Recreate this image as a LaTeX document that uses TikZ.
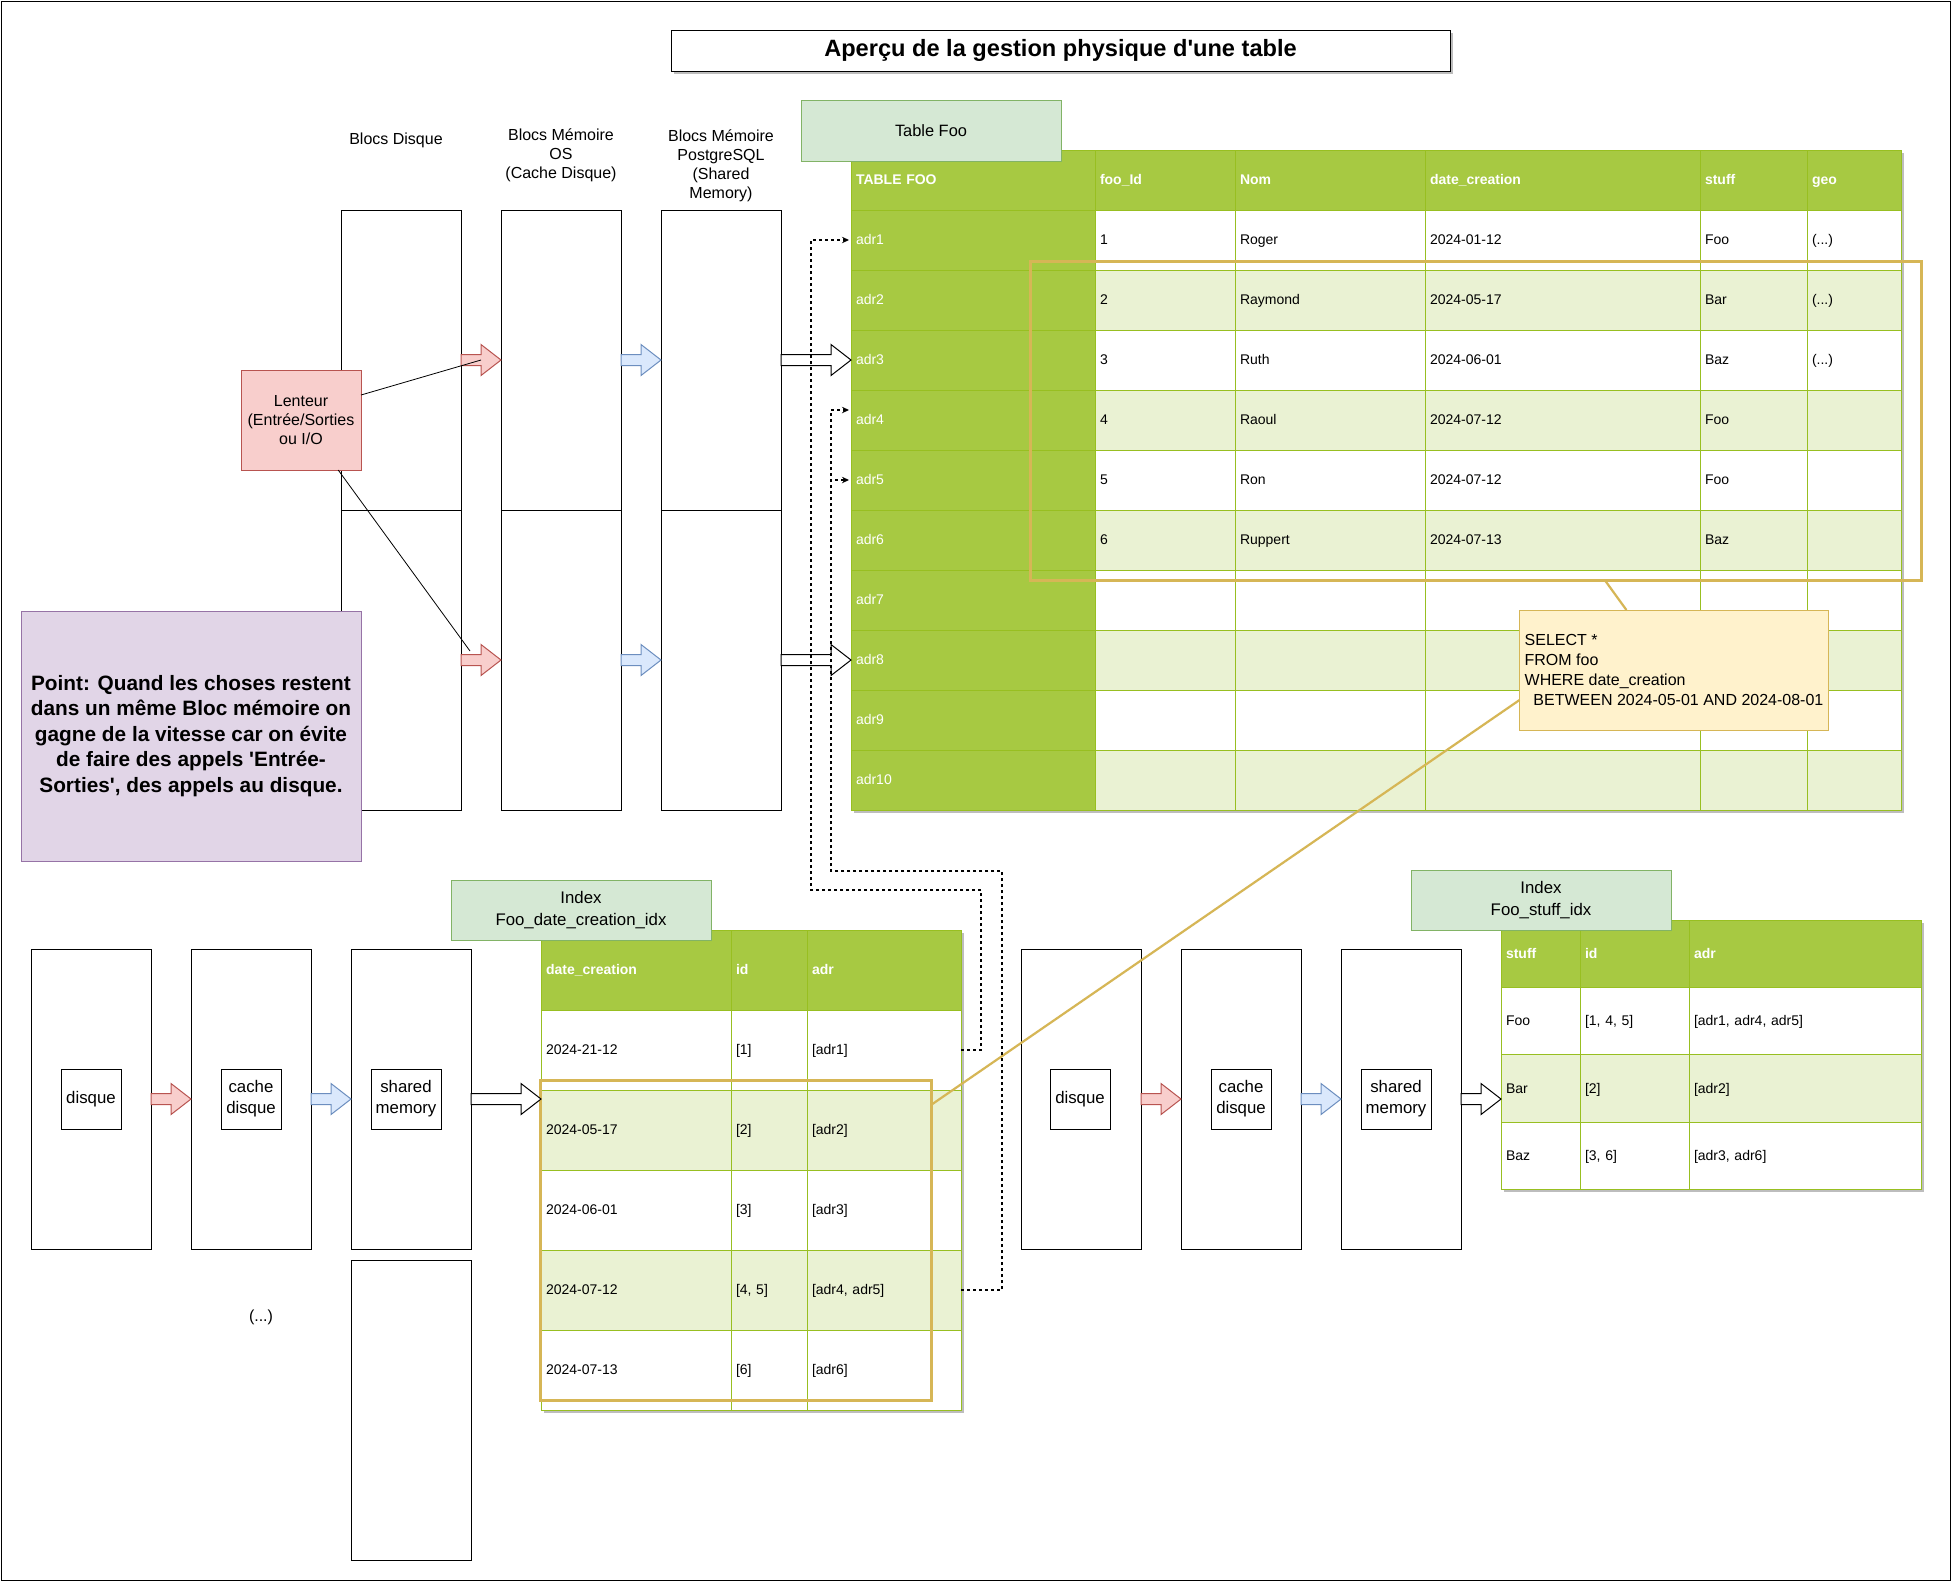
\documentclass[tikz,border=0pt]{standalone}
\usepackage{fontspec}
\setmainfont{Liberation Sans}[Ligatures=TeXOff]
\usetikzlibrary{calc,arrows.meta}

\definecolor{tgreen}{HTML}{A7C942}
\definecolor{tgrid}{HTML}{98BF21}
\definecolor{tlight}{HTML}{EAF2D3}
\definecolor{hlor}{HTML}{D6B656}
\definecolor{sqlfill}{HTML}{FFF2CC}
\definecolor{lblfill}{HTML}{D5E8D4}
\definecolor{lbldraw}{HTML}{82B366}
\definecolor{purfill}{HTML}{E1D5E7}
\definecolor{purdraw}{HTML}{9673A6}
\definecolor{redfill}{HTML}{F8CECC}
\definecolor{reddraw}{HTML}{B85450}
\definecolor{bluefill}{HTML}{DAE8FC}
\definecolor{bluedraw}{HTML}{6C8EBF}
\definecolor{shadowc}{HTML}{BDBDBD}

\tikzset{
  every node/.style={inner sep=0pt,outer sep=0pt},
  plainbox/.style={draw=black,line width=0.5pt,fill=white},
  lbl/.style={font=\fontsize{8}{9.5}\selectfont,align=center},
  lblb/.style={font=\fontsize{8.4}{10.6}\selectfont,align=center},
  colhalf/.style={plainbox,anchor=north west,minimum width=60pt,minimum height=150pt},
  bigbox/.style={plainbox,minimum width=60pt,minimum height=150pt},
  innerbox/.style={plainbox,lblb,minimum width=30pt,minimum height=30pt},
  greenlbl/.style={draw=lbldraw,fill=lblfill,line width=0.5pt,minimum width=130pt,minimum height=30pt,lblb},
  tcellbase/.style={draw=tgrid,line width=0.5pt,anchor=north west,inner xsep=2.5pt,inner ysep=0pt,
    align=left,font=\fontsize{7}{8.4}\selectfont,text=black,text height=5.7pt,text depth=0.9pt},
  hdr/.style={fill=tgreen,text=white,font=\fontsize{7}{8.4}\selectfont\bfseries},
  keycol/.style={fill=tgreen,text=white},
  hl/.style={draw=hlor,line width=1.5pt,anchor=north west},
  redarrow/.style={fill=redfill,draw=reddraw,line width=0.5pt},
  bluearrow/.style={fill=bluefill,draw=bluedraw,line width=0.5pt},
  whitearrow/.style={fill=white,draw=black,line width=0.5pt},
  dashconn/.style={draw=black,line width=0.65pt,dash pattern=on 1.5pt off 1.5pt,
    -{Stealth[length=3.5pt,width=3.2pt]}},
  callout/.style={draw=hlor,line width=1.1pt},
  pointer/.style={draw=black,line width=0.4pt},
}

% wide block arrow from the first point to the x of the second one
\newcommand\blockarrow[3][]{%
  \path[#1] let \p1=(#2), \p2=(#3) in
    (\x1,\y1+2.75pt) -- (\x2-10pt,\y1+2.75pt) -- (\x2-10pt,\y1+7.75pt) -- (\x2,\y1)
    -- (\x2-10pt,\y1-7.75pt) -- (\x2-10pt,\y1-2.75pt) -- (\x1,\y1-2.75pt) -- cycle;}

% table cell: name, x, y (north west, px), width, height (px), style, text
\newcommand\tcell[7]{%
  \pgfmathsetlengthmacro\cellTW{#4*0.5pt-5pt}%
  \pgfmathsetlengthmacro\cellTH{#5*0.5pt}%
  \node[tcellbase,#6,text width=\cellTW,minimum height=\cellTH] (#1) at (#2,#3) {#7};}

\newcommand\foorow[7]{%
  \pgfmathsetmacro\ry{210+(#1-1)*60}%
  \ifodd#1\relax\def\rfill{white}\else\def\rfill{tlight}\fi
  \tcell{foo-#1-1}{851}{\ry}{244}{60}{keycol}{#2}%
  \tcell{foo-#1-2}{1095}{\ry}{140}{60}{fill=\rfill}{#3}%
  \tcell{foo-#1-3}{1235}{\ry}{190}{60}{fill=\rfill}{#4}%
  \tcell{foo-#1-4}{1425}{\ry}{275}{60}{fill=\rfill}{#5}%
  \tcell{foo-#1-5}{1700}{\ry}{107}{60}{fill=\rfill}{#6}%
  \tcell{foo-#1-6}{1807}{\ry}{94}{60}{fill=\rfill}{#7}}

\newcommand\idxArow[4]{%
  \pgfmathsetmacro\ry{1010+(#1-1)*80}%
  \ifodd#1\relax\def\rfill{white}\else\def\rfill{tlight}\fi
  \tcell{idx1-#1-1}{541}{\ry}{190}{80}{fill=\rfill}{#2}%
  \tcell{idx1-#1-2}{731}{\ry}{76}{80}{fill=\rfill}{#3}%
  \tcell{idx1-#1-3}{807}{\ry}{154}{80}{fill=\rfill}{#4}}

\newcommand\idxBrow[4]{%
  \pgfmathsetmacro\ry{987.33+(#1-1)*67.33}%
  \ifodd#1\relax\def\rfill{white}\else\def\rfill{tlight}\fi
  \tcell{idx2-#1-1}{1501}{\ry}{79}{67.33}{fill=\rfill}{#2}%
  \tcell{idx2-#1-2}{1580}{\ry}{109}{67.33}{fill=\rfill}{#3}%
  \tcell{idx2-#1-3}{1689}{\ry}{232}{67.33}{fill=\rfill}{#4}}

\begin{document}
\begin{tikzpicture}[x=0.5pt,y=-0.5pt]
\useasboundingbox (0,0) rectangle (1952,1581);
\fill[white] (0,0) rectangle (1952,1581);
\draw[line width=0.5pt] (1,1) rectangle (1950,1580);

% title
\fill[shadowc] (674,33) rectangle (1453,74);
\node[plainbox,minimum width=389.5pt,minimum height=20.5pt,font=\fontsize{11.8}{14}\selectfont\bfseries]
  (title) at (1060.5,50.5) {Aperçu de la gestion physique d'une table};

% memory levels
\node[lbl] (lblA) at (396,140) {Blocs Disque};
\node[lbl] (lblB) at (561,155.5) {Blocs Mémoire\\OS\\(Cache Disque)};
\node[lbl] (lblC) at (721,165.5) {Blocs Mémoire\\PostgreSQL\\(Shared\\Memory)};
\foreach \n/\x in {A/341,B/501,C/661}{
  \node[colhalf] (col\n-top) at (\x,210) {};
  \node[colhalf] (col\n-bot) at (\x,510) {};
}

\node[draw=reddraw,fill=redfill,line width=0.5pt,minimum width=60pt,minimum height=50pt,lbl]
  (lent) at (301,420) {Lenteur\\(Entrée/Sorties\\ou I/O};
\node[draw=purdraw,fill=purfill,line width=0.5pt,minimum width=170pt,minimum height=125pt,
  align=center,font=\fontsize{10.4}{12.7}\selectfont\bfseries] (point) at (191,736)
  {Point: Quand les choses restent\\dans un même Bloc mémoire on\\gagne de la vitesse car on évite\\de faire des appels 'Entrée-\\Sorties', des appels au disque.};

\blockarrow[redarrow]{colA-top.east}{colB-top.west}
\blockarrow[bluearrow]{colB-top.east}{colC-top.west}
\blockarrow[redarrow]{colA-bot.east}{colB-bot.west}
\blockarrow[bluearrow]{colB-bot.east}{colC-bot.west}

\draw[pointer] ($(lent.north east)!0.25!(lent.south east)$) -- ($(colA-top.east)+(10pt,0pt)$);
\draw[pointer] ($(lent.south west)!0.81!(lent.south east)$) -- ($(colA-bot.east)+(4.5pt,4.5pt)$);

% table foo
\fill[shadowc] (854,153) rectangle (1904,813);
\tcell{foo-h-1}{851}{150}{244}{60}{hdr}{TABLE FOO}
\tcell{foo-h-2}{1095}{150}{140}{60}{hdr}{foo\_Id}
\tcell{foo-h-3}{1235}{150}{190}{60}{hdr}{Nom}
\tcell{foo-h-4}{1425}{150}{275}{60}{hdr}{date\_creation}
\tcell{foo-h-5}{1700}{150}{107}{60}{hdr}{stuff}
\tcell{foo-h-6}{1807}{150}{94}{60}{hdr}{geo}
\foorow{1}{adr1}{1}{Roger}{2024-01-12}{Foo}{(...)}
\foorow{2}{adr2}{2}{Raymond}{2024-05-17}{Bar}{(...)}
\foorow{3}{adr3}{3}{Ruth}{2024-06-01}{Baz}{(...)}
\foorow{4}{adr4}{4}{Raoul}{2024-07-12}{Foo}{}
\foorow{5}{adr5}{5}{Ron}{2024-07-12}{Foo}{}
\foorow{6}{adr6}{6}{Ruppert}{2024-07-13}{Baz}{}
\foorow{7}{adr7}{}{}{}{}{}
\foorow{8}{adr8}{}{}{}{}{}
\foorow{9}{adr9}{}{}{}{}{}
\foorow{10}{adr10}{}{}{}{}{}
\node[greenlbl,minimum height=30.5pt,font=\fontsize{8.2}{9.8}\selectfont] (foolbl) at (931,130.5) {Table Foo};

\blockarrow[whitearrow]{colC-top.east}{foo-3-1.west}
\blockarrow[whitearrow]{colC-bot.east}{foo-8-1.west}

\node[hl,minimum width=445.5pt,minimum height=159.5pt] (hlfoo) at (1030,261) {};
\node[draw=hlor,fill=sqlfill,line width=0.5pt,minimum width=154.5pt,minimum height=60pt,
  align=left,font=\fontsize{8}{10}\selectfont] (sql) at (1674,670)
  {SELECT *\\FROM foo\\WHERE date\_creation\\\hspace*{4.4pt}BETWEEN 2024-05-01 AND 2024-08-01};

% index on date_creation
\node[bigbox] (b1) at (91,1099) {};
\node[bigbox] (b2) at (251,1099) {};
\node[bigbox] (b3) at (411,1099) {};
\node[bigbox] (b4) at (411,1410) {};
\node[innerbox] (b1in) at (91,1099) {disque};
\node[innerbox] (b2in) at (251,1099) {cache\\disque};
\node[innerbox,minimum width=35pt] (b3in) at (406,1099) {shared\\memory};
\node[lbl] (etc) at (261,1317) {(...)};

\fill[shadowc] (544,933) rectangle (964,1413);
\tcell{idx1-h-1}{541}{930}{190}{80}{hdr}{date\_creation}
\tcell{idx1-h-2}{731}{930}{76}{80}{hdr}{id}
\tcell{idx1-h-3}{807}{930}{154}{80}{hdr}{adr}
\idxArow{1}{2024-21-12}{[1]}{[adr1]}
\idxArow{2}{2024-05-17}{[2]}{[adr2]}
\idxArow{3}{2024-06-01}{[3]}{[adr3]}
\idxArow{4}{2024-07-12}{[4, 5]}{[adr4, adr5]}
\idxArow{5}{2024-07-13}{[6]}{[adr6]}
\node[greenlbl] (idx1lbl) at (581,910) {Index\\Foo\_date\_creation\_idx};
\node[hl,minimum width=195.5pt,minimum height=160pt] (hlidx) at (540,1080) {};

\blockarrow[redarrow]{b1.east}{b2.west}
\blockarrow[bluearrow]{b2.east}{b3.west}
\blockarrow[whitearrow]{b3.east}{b3.east -| idx1-2-1.west}

% index on stuff
\node[bigbox] (b5) at (1081,1099) {};
\node[bigbox] (b6) at (1241,1099) {};
\node[bigbox] (b7) at (1401,1099) {};
\node[innerbox] (b5in) at (1080,1099) {disque};
\node[innerbox] (b6in) at (1241,1099) {cache\\disque};
\node[innerbox,minimum width=35pt] (b7in) at (1396,1099) {shared\\memory};

\fill[shadowc] (1504,923) rectangle (1924,1192);
\tcell{idx2-h-1}{1501}{920}{79}{67.33}{hdr}{stuff}
\tcell{idx2-h-2}{1580}{920}{109}{67.33}{hdr}{id}
\tcell{idx2-h-3}{1689}{920}{232}{67.33}{hdr}{adr}
\idxBrow{1}{Foo}{[1, 4, 5]}{[adr1, adr4, adr5]}
\idxBrow{2}{Bar}{[2]}{[adr2]}
\idxBrow{3}{Baz}{[3, 6]}{[adr3, adr6]}
\node[greenlbl] (idx2lbl) at (1541,900) {Index\\Foo\_stuff\_idx};

\blockarrow[redarrow]{b5.east}{b6.west}
\blockarrow[bluearrow]{b6.east}{b7.west}
\blockarrow[whitearrow]{b7.east}{b7.east -| idx2-2-1.west}

% query callouts
\draw[callout] ($(hlfoo.south west)!0.645!(hlfoo.south east)$) -- ($(sql.north west)!0.346!(sql.north east)$);
\draw[callout] ($(sql.north west)!0.75!(sql.south west)$) -- ($(hlidx.north east)!0.078!(hlidx.south east)$);

% index entries pointing to table rows
\draw[dashconn] (idx1-1-3.east) -- ++(10pt,0pt) -- ++(0pt,80pt) -- ++(-85pt,0pt)
  |- ([xshift=-1pt]foo-1-1.west);
\draw[dashconn] (idx1-4-3.east) -- ++(20.5pt,0pt) -- ++(0pt,209.5pt) -- ++(-85.5pt,0pt)
  |- ([xshift=-1pt,yshift=5pt]foo-4-1.west);
\draw[dashconn] (idx1-4-3.east) -- ++(20.5pt,0pt) -- ++(0pt,209.5pt) -- ++(-85.5pt,0pt)
  |- ([xshift=-1pt]foo-5-1.west);
\end{tikzpicture}
\end{document}
